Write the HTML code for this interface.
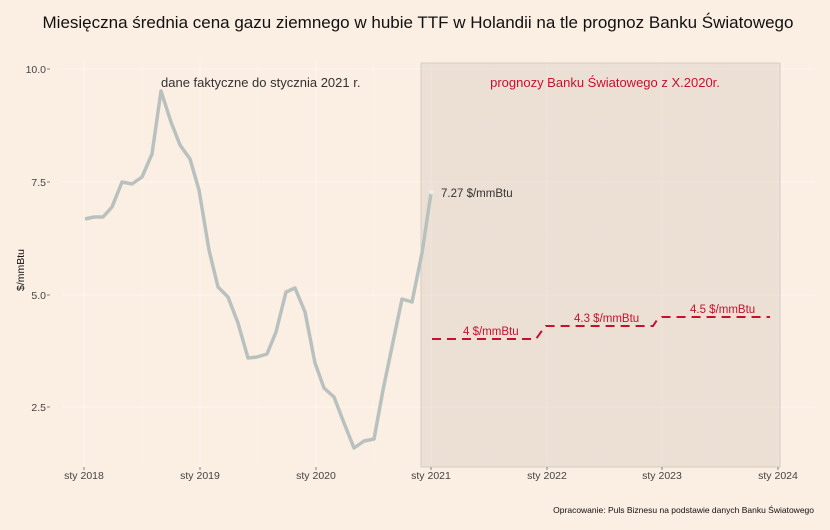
<!DOCTYPE html>
<html><head><meta charset="utf-8"><style>
body{margin:0;background:#fbeee2;}
svg{display:block;font-family:"Liberation Sans",sans-serif;}
</style></head><body>
<svg width="830" height="530" viewBox="0 0 830 530">
<rect width="830" height="530" fill="#fbeee2"/>
<text x="418" y="28" font-size="17" text-anchor="middle" fill="#111">Miesięczna średnia cena gazu ziemnego w hubie TTF w Holandii na tle prognoz Banku Światowego</text>
<g stroke="#fff" stroke-opacity="0.55">
<line x1="62" x2="815" y1="69" y2="69" stroke-width="1"/>
<line x1="62" x2="815" y1="182" y2="182"/>
<line x1="62" x2="815" y1="295" y2="295"/>
<line x1="62" x2="815" y1="407" y2="407"/>
<line x1="84" x2="84" y1="62" y2="467"/>
<line x1="200" x2="200" y1="62" y2="467"/>
<line x1="316" x2="316" y1="62" y2="467"/>
<line x1="431" x2="431" y1="62" y2="467"/>
<line x1="547" x2="547" y1="62" y2="467"/>
<line x1="662" x2="662" y1="62" y2="467"/>
<line x1="778" x2="778" y1="62" y2="467"/>
</g>
<g stroke="#fff" stroke-opacity="0.3" stroke-width="0.6">
<line x1="62" x2="815" y1="125" y2="125"/>
<line x1="62" x2="815" y1="238" y2="238"/>
<line x1="62" x2="815" y1="351" y2="351"/>
<line x1="62" x2="815" y1="463" y2="463"/>
<line x1="142" x2="142" y1="62" y2="467"/>
<line x1="258" x2="258" y1="62" y2="467"/>
<line x1="373" x2="373" y1="62" y2="467"/>
<line x1="489" x2="489" y1="62" y2="467"/>
<line x1="604" x2="604" y1="62" y2="467"/>
<line x1="720" x2="720" y1="62" y2="467"/>
</g>
<rect x="421" y="63" width="359" height="404" fill="#d9cfc5" fill-opacity="0.45" stroke="#d6ccc2" stroke-width="1"/>
<polyline fill="none" stroke="#b9c1bf" stroke-width="3.5" stroke-linejoin="round" points="85,219 94,217 103,217 112,207 122,182 132,184 142,177 152,154 161,91 171,122 180,145 190,159 199,190 209,250 218,287 228,297 238,323 248,358 257,357 267,354 276,332 286,292 295,288 305,312 315,363 324,388 334,397 344,423 354,448 364,441 374,439 383,390 393,342 402,299 412,302 422,253 431,193"/>
<circle cx="431.5" cy="192" r="2.5" fill="#e8ecea"/>
<g fill="none" stroke="#c8102e" stroke-width="2" stroke-dasharray="9,6">
<polyline points="432,339 536,339 541,332 546,326 547,326 653,326 657,320 662,317 770,317"/>
</g>
<text x="441" y="197" font-size="11.5" fill="#333">7.27 $/mmBtu</text>
<text x="463" y="335" font-size="11.5" fill="#c8102e">4 $/mmBtu</text>
<text x="574" y="322" font-size="11.5" fill="#c8102e">4.3 $/mmBtu</text>
<text x="690" y="313" font-size="11.5" fill="#c8102e">4.5 $/mmBtu</text>
<text x="161" y="87" font-size="13" fill="#333">dane faktyczne do stycznia 2021 r.</text>
<text x="605" y="87" font-size="13" fill="#c8102e" text-anchor="middle">prognozy Banku Światowego z X.2020r.</text>
<g font-size="10.5" fill="#444" text-anchor="end">
<text x="46" y="73">10.0</text><text x="46" y="186">7.5</text><text x="46" y="299">5.0</text><text x="46" y="411">2.5</text>
</g>
<g stroke="#666" stroke-width="0.8">
<line x1="47" x2="50" y1="69" y2="69"/><line x1="47" x2="50" y1="182" y2="182"/><line x1="47" x2="50" y1="295" y2="295"/><line x1="47" x2="50" y1="407" y2="407"/>
<line x1="84" x2="84" y1="467" y2="470"/><line x1="200" x2="200" y1="467" y2="470"/><line x1="316" x2="316" y1="467" y2="470"/><line x1="431" x2="431" y1="467" y2="470"/><line x1="547" x2="547" y1="467" y2="470"/><line x1="662" x2="662" y1="467" y2="470"/><line x1="778" x2="778" y1="467" y2="470"/>
</g>
<g font-size="10.5" fill="#444" text-anchor="middle">
<text x="84" y="479">sty 2018</text><text x="200" y="479">sty 2019</text><text x="316" y="479">sty 2020</text><text x="431" y="479">sty 2021</text><text x="547" y="479">sty 2022</text><text x="662" y="479">sty 2023</text><text x="778" y="479">sty 2024</text>
</g>
<text transform="translate(24,270) rotate(-90)" font-size="10.5" fill="#111" text-anchor="middle">$/mmBtu</text>
<text x="814" y="513" font-size="8.5" fill="#111" text-anchor="end">Opracowanie: Puls Biznesu na podstawie danych Banku Światowego</text>
</svg>
</body></html>
